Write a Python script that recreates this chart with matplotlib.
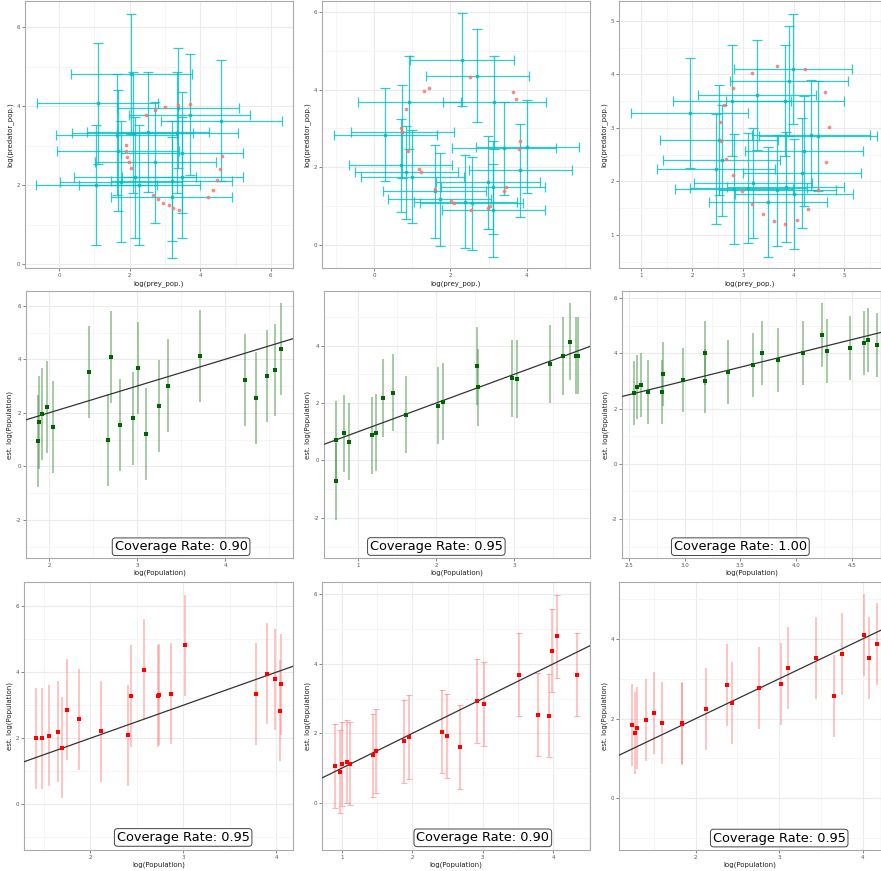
import matplotlib
matplotlib.use("Agg")
import matplotlib.pyplot as plt
from matplotlib.ticker import MultipleLocator, FormatStrFormatter

# ---- top row: true trajectory (red) and posterior estimates (cyan)
true_prey_a = [1.88, 1.89, 1.92, 1.98, 2.05, 2.46, 2.71, 3.01, 3.36, 3.71, 2.67,
               2.81, 2.95, 3.10, 3.24, 3.39, 4.22, 4.35, 4.47, 4.56, 4.62]
true_pred_a = [3.02, 2.88, 2.73, 2.58, 2.45, 3.79, 3.90, 3.99, 4.04, 4.05, 1.75,
               1.65, 1.56, 1.49, 1.43, 1.38, 1.70, 1.88, 2.13, 2.41, 2.74]
true_prey_b = [0.71, 0.73, 0.83, 0.89, 1.18, 1.23, 1.32, 1.45, 1.60, 2.02, 2.09,
               2.52, 2.53, 2.97, 3.03, 3.39, 3.46, 3.63, 3.72, 3.79, 3.83]
true_pred_b = [3.00, 2.92, 3.51, 2.43, 1.95, 1.87, 3.98, 4.05, 1.45, 1.13, 1.08,
               4.33, 0.90, 0.95, 1.01, 1.38, 1.49, 3.94, 3.77, 2.48, 2.68]
true_prey_c = [3.68, 4.22, 3.18, 2.81, 4.61, 2.62, 2.55, 4.70, 2.57, 2.66, 4.64,
               2.80, 2.99, 4.47, 3.18, 4.28, 3.39, 3.61, 4.07, 3.83]
true_pred_c = [4.16, 4.09, 4.02, 3.74, 3.66, 3.43, 3.10, 3.02, 2.75, 2.42, 2.37,
               2.11, 1.82, 1.83, 1.58, 1.48, 1.39, 1.26, 1.28, 1.21]

est_prey_a = [2.05, 1.09, 3.37, 3.70, 4.60, 2.52, 2.08, 1.63, 3.35, 1.67, 3.48,
              2.73, 2.15, 3.49, 3.19, 1.75, 1.05, 2.27, 3.19]
est_pred_a = [4.82, 4.08, 3.96, 3.79, 3.64, 3.35, 3.33, 3.28, 3.33, 2.88, 2.83,
              2.58, 2.20, 2.20, 2.11, 2.09, 2.01, 2.01, 1.70]
est_prey_b = [2.30, 2.70, 0.92, 3.15, 0.30, 0.74, 0.70, 0.85, 1.00, 1.59, 1.72,
              2.39, 2.56, 2.98, 3.11, 3.12, 3.40, 4.01, 3.83]
est_pred_b = [4.77, 4.36, 3.68, 3.68, 2.84, 2.92, 2.05, 1.87, 1.76, 1.38, 1.17,
              1.11, 1.07, 1.61, 1.49, 0.89, 2.49, 2.53, 1.92]
est_prey_c = [3.98, 3.91, 3.27, 3.83, 2.78, 1.95, 2.53, 2.58, 2.47, 4.34, 4.48,
              4.21, 4.17, 3.20, 3.11, 2.82, 3.68, 3.84, 4.00, 3.49]
est_pred_c = [4.10, 3.88, 3.62, 3.51, 3.51, 3.27, 2.77, 2.39, 2.23, 2.87, 2.85,
              2.57, 2.15, 1.97, 1.88, 1.86, 1.83, 1.90, 1.76, 1.62]

# interval half widths (prey, predator) per simulation
prey_half = [1.72, 1.35, 1.16]
pred_half = [1.53, 1.20, 1.03]

# ---- middle row: prey, true vs estimated
prey_log_a = [1.88, 1.89, 1.92, 1.98, 2.05, 2.46, 2.67, 2.71, 2.81, 2.95, 3.01,
              3.10, 3.25, 3.35, 3.71, 4.22, 4.35, 4.47, 4.57, 4.63]
prey_fit_a = [0.96, 1.64, 1.95, 2.21, 1.47, 3.51, 1.00, 4.07, 1.55, 1.79, 3.68,
              1.22, 2.25, 3.02, 4.13, 3.22, 2.54, 3.38, 3.61, 4.38]
prey_log_b = [0.71, 0.72, 0.82, 0.88, 1.18, 1.23, 1.32, 1.44, 1.61, 2.02, 2.09,
              2.52, 2.53, 2.97, 3.03, 3.46, 3.62, 3.71, 3.79, 3.82]
prey_fit_b = [-0.73, 0.71, 0.94, 0.65, 0.87, 0.97, 2.18, 2.36, 1.59, 1.91, 2.05,
              3.29, 2.54, 2.86, 2.84, 3.36, 3.64, 4.14, 3.65, 3.65]
prey_log_c = [2.545, 2.57, 2.61, 2.67, 2.81, 2.80, 2.99, 3.18, 3.18, 3.39, 3.61,
              3.69, 3.84, 4.06, 4.23, 4.28, 4.48, 4.61, 4.64, 4.72]
prey_fit_c = [2.55, 2.77, 2.86, 2.59, 3.26, 2.61, 3.04, 4.00, 3.00, 3.32, 3.58,
              4.00, 3.75, 4.02, 4.67, 4.08, 4.21, 4.37, 4.49, 4.32]

# ---- bottom row: predator, true vs estimated
pred_log_a = [1.42, 1.48, 1.56, 1.65, 1.70, 1.75, 1.88, 2.12, 2.41, 2.44, 2.58,
              2.73, 2.74, 2.87, 3.02, 3.78, 3.90, 3.99, 4.04, 4.05]
pred_fit_a = [2.00, 2.00, 2.08, 2.20, 1.71, 2.87, 2.58, 2.21, 2.09, 3.28, 4.07,
              3.28, 3.32, 3.35, 4.81, 3.34, 3.96, 3.79, 2.83, 3.64]
pred_log_b = [0.90, 0.97, 1.00, 1.08, 1.12, 1.45, 1.49, 1.88, 1.95, 2.42, 2.49,
              2.68, 2.92, 3.01, 3.51, 3.78, 3.94, 3.98, 4.05, 4.34]
pred_fit_b = [1.07, 0.90, 1.12, 1.19, 1.13, 1.37, 1.49, 1.77, 1.90, 2.05, 1.93,
              1.61, 2.93, 2.85, 3.69, 2.54, 2.51, 4.38, 4.79, 3.69]
pred_log_c = [1.23, 1.27, 1.30, 1.40, 1.50, 1.60, 1.84, 1.84, 2.12, 2.38, 2.43,
              2.76, 3.02, 3.11, 3.44, 3.66, 3.75, 4.02, 4.08, 4.17]
pred_fit_c = [1.83, 1.63, 1.76, 1.97, 2.15, 1.89, 1.86, 1.90, 2.23, 2.85, 2.40,
              2.78, 2.87, 3.27, 3.51, 2.57, 3.63, 4.11, 3.51, 3.87]

coverage_prey = [0.90, 0.95, 1.00]
coverage_pred = [0.95, 0.90, 0.95]

plt.rcParams["axes.unicode_minus"] = False
plt.rcParams["font.family"] = "DejaVu Sans"

W, H = 881, 871
fig = plt.figure(figsize=(W / 100, H / 100), dpi=100)


def panel(left, top, right, bottom, xlim, ylim, xstep, ystep, xfmt="%g"):
    ax = fig.add_axes([left / W, 1 - bottom / H, (right - left) / W, (bottom - top) / H])
    ax.set_xlim(*xlim)
    ax.set_ylim(*ylim)
    ax.xaxis.set_major_locator(MultipleLocator(xstep))
    ax.xaxis.set_minor_locator(MultipleLocator(xstep / 2))
    ax.yaxis.set_major_locator(MultipleLocator(ystep))
    ax.yaxis.set_minor_locator(MultipleLocator(ystep / 2))
    ax.xaxis.set_major_formatter(FormatStrFormatter(xfmt))
    ax.yaxis.set_major_formatter(FormatStrFormatter("%g"))
    ax.grid(which="major", color="#EBEBEB", lw=0.8, zorder=0)
    ax.grid(which="minor", color="#F4F4F4", lw=0.6, zorder=0)
    ax.set_axisbelow(True)
    for s in ax.spines.values():
        s.set_color("#AAAAAA")
        s.set_linewidth(0.8)
    ax.tick_params(which="major", length=2, width=0.5, color="#555555",
                   labelsize=4, labelcolor="#555555", pad=1.5)
    ax.tick_params(which="minor", length=0)
    return ax


def label_box(ax, x, y, rate):
    ax.text(x, y, "Coverage Rate: %.2f" % rate, ha="center", va="center",
            fontsize=9.3, color="black", zorder=5,
            bbox=dict(boxstyle="round,pad=0.18,rounding_size=0.25", fc="white",
                      ec="#444444", lw=0.7))


# layout of the 3x3 grid in pixels: (left, top, right, bottom)
cols = [(25, 293), (322, 590), (619, 881)]
rows = [(1, 268), (291, 558), (582, 850)]

top_sets = [(true_prey_a, true_pred_a, est_prey_a, est_pred_a),
            (true_prey_b, true_pred_b, est_prey_b, est_pred_b),
            (true_prey_c, true_pred_c, est_prey_c, est_pred_c)]
top_lims = [((-0.97, 6.63), (-0.094, 6.67), 2, 2),
            ((-1.36, 5.65), (-0.60, 6.29), 2, 2),
            ((0.56, 5.72), (0.38, 5.37), 1, 1)]

for i, (tx, ty, ex, ey) in enumerate(top_sets):
    xl, yl, xs, ys = top_lims[i]
    ax = panel(cols[i][0], rows[0][0], cols[i][1], rows[0][1], xl, yl, xs, ys)
    ax.errorbar(ex, ey, xerr=prey_half[i], yerr=pred_half[i], fmt="s", ms=2,
                color="#00BFC4", ecolor="#00BFC4", elinewidth=0.9, capsize=3.5,
                capthick=0.9, alpha=0.8, zorder=3)
    ax.scatter(tx, ty, s=7, color="#F8766D", alpha=0.85, lw=0, zorder=4)
    ax.set_xlabel("log(prey_pop.)", fontsize=5, color="#222222", labelpad=1.5)
    ax.set_ylabel("log(predator_pop.)", fontsize=5, color="#222222", labelpad=2)

mid_sets = [(prey_log_a, prey_fit_a), (prey_log_b, prey_fit_b), (prey_log_c, prey_fit_c)]
mid_lims = [((1.74, 4.77), (-3.42, 6.55), 1, 2, "%g", (3.5, -3)),
            ((0.56, 3.97), (-3.40, 5.90), 1, 2, "%g", (2.0, -3)),
            ((2.44, 4.76), (-3.41, 6.26), 0.5, 2, "%.1f", (3.5, -3))]
for i, (x, y) in enumerate(mid_sets):
    xl, yl, xs, ys, fmt, pos = mid_lims[i]
    left = cols[i][0] + (1 if i == 0 else 2 if i == 1 else 3)
    ax = panel(left, rows[1][0], cols[i][1], rows[1][1], xl, yl, xs, ys, fmt)
    ax.errorbar(x, y, yerr=prey_half[i], fmt="none", ecolor="#3f8f3f",
                elinewidth=1.1, alpha=0.6, zorder=2)
    ax.scatter(x, y, s=6, color="#006400", marker="s", lw=0, zorder=4)
    ax.axline((0, 0), (1, 1), color="#333333", lw=0.9, zorder=3)
    label_box(ax, pos[0], pos[1], coverage_prey[i])
    ax.set_xlabel("log(Population)", fontsize=5, color="#222222", labelpad=1.5)
    ax.set_ylabel("est. log(Population)", fontsize=5, color="#222222", labelpad=2)

bot_sets = [(pred_log_a, pred_fit_a), (pred_log_b, pred_fit_b), (pred_log_c, pred_fit_c)]
bot_lims = [((1.29, 4.18), (-1.38, 6.73), 1, 2, 0),
            ((0.72, 4.52), (-1.35, 6.35), 1, 2, 2),
            ((1.08, 4.22), (-1.30, 5.43), 1, 2, 0)]
for i, (x, y) in enumerate(bot_sets):
    xl, yl, xs, ys, cap = bot_lims[i]
    left = cols[i][0] - (1 if i == 0 else 0)
    ax = panel(left, rows[2][0], cols[i][1], rows[2][1], xl, yl, xs, ys)
    ax.errorbar(x, y, yerr=pred_half[i], fmt="none", ecolor="#ff8080",
                elinewidth=1.1, capsize=cap, capthick=0.8, alpha=0.6, zorder=2)
    ax.scatter(x, y, s=6, color="#FF0000", marker="s", lw=0, zorder=4)
    ax.axline((0, 0), (1, 1), color="#333333", lw=0.9, zorder=3)
    label_box(ax, 3.0, -1.0, coverage_pred[i])
    ax.set_xlabel("log(Population)", fontsize=5, color="#222222", labelpad=1.5)
    ax.set_ylabel("est. log(Population)", fontsize=5, color="#222222", labelpad=2)

fig.savefig("out.png", dpi=100, facecolor="white")
